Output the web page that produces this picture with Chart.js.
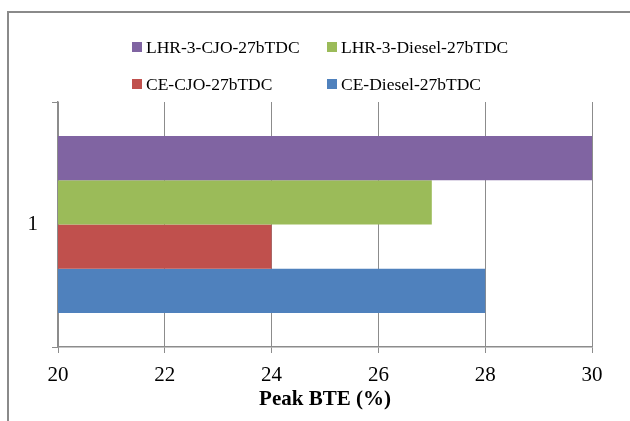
<!DOCTYPE html>
<html>
<head>
<meta charset="utf-8">
<script src="https://cdn.jsdelivr.net/npm/chart.js@4"></script>
<style>
  html, body { margin: 0; padding: 0; background: #ffffff; }
  #wrap { position: relative; width: 630px; height: 421px; overflow: hidden; }
  #frame { position: absolute; left: 7px; top: 11px; width: 700px; height: 500px;
           border-left: 2px solid #8a8a8a; border-top: 2px solid #8a8a8a; }
  canvas { position: absolute; left: 0; top: 0; }
</style>
</head>
<body>
<div id="wrap">
  <div id="frame"></div>
  <canvas id="c" width="630" height="421"></canvas>
</div>
<script>
// Peak brake thermal efficiency at 27° bTDC injection timing
const categories = ['1'];
const seriesLabels = ['LHR-3-CJO-27bTDC', 'LHR-3-Diesel-27bTDC', 'CE-CJO-27bTDC', 'CE-Diesel-27bTDC'];
const lhrCjo = [30];
const lhrDiesel = [27];
const ceCjo = [24];
const ceDiesel = [28];
const xTicks = [20, 22, 24, 26, 28, 30];
const seriesColors = ['#8064A2', '#9BBB59', '#C0504D', '#4F81BD'];

const FONT = "'Liberation Serif', 'DejaVu Serif', serif";

// Two-column legend laid out above the plot
const gridLegend = {
  id: 'gridLegend',
  afterDraw(chart) {
    const ctx = chart.ctx;
    const cols = [132, 327];
    const rows = [47, 84];
    ctx.save();
    ctx.font = '17.5px ' + FONT;
    ctx.textBaseline = 'middle';
    ctx.textAlign = 'left';
    chart.data.datasets.forEach((ds, i) => {
      const x = cols[i % 2];
      const y = rows[Math.floor(i / 2)];
      ctx.fillStyle = ds.backgroundColor;
      ctx.fillRect(x, y - 5, 10, 10);
      ctx.fillStyle = '#000000';
      ctx.fillText(ds.label, x + 14, y + 1);
    });
    ctx.restore();
  }
};

const datasets = [lhrCjo, lhrDiesel, ceCjo, ceDiesel].map((vals, i) => ({
  label: seriesLabels[i],
  data: vals,
  backgroundColor: seriesColors[i],
  borderWidth: 0,
  categoryPercentage: 0.722,
  barPercentage: 1.0
}));

new Chart(document.getElementById('c'), {
  type: 'bar',
  data: { labels: categories, datasets },
  options: {
    indexAxis: 'y',
    responsive: false,
    animation: false,
    layout: { padding: { top: 102, right: 38, bottom: 0, left: 0 } },
    plugins: {
      legend: { display: false },
      tooltip: { enabled: false }
    },
    scales: {
      x: {
        min: 20,
        max: 30,
        afterBuildTicks(scale) { scale.ticks = xTicks.map(v => ({ value: v })); },
        afterFit(scale) { scale.height = 74; },
        grid: { color: '#8c8c8c', lineWidth: 1, tickLength: 6, drawOnChartArea: true },
        border: { color: '#8c8c8c', width: 1.5 },
        ticks: { color: '#000000', font: { family: FONT, size: 21 }, padding: 10, maxRotation: 0 },
        title: {
          display: true,
          text: 'Peak BTE (%)',
          color: '#000000',
          font: { family: FONT, size: 21, weight: 'bold' },
          padding: { top: 0, bottom: 9 }
        }
      },
      y: {
        afterFit(scale) { scale.width = 58; },
        grid: { color: '#8c8c8c', lineWidth: 1, tickLength: 6, drawOnChartArea: false, offset: true },
        border: { color: '#8c8c8c', width: 1.5 },
        ticks: { color: '#000000', font: { family: FONT, size: 21 }, padding: 14 }
      }
    }
  },
  plugins: [gridLegend]
});
</script>
</body>
</html>
